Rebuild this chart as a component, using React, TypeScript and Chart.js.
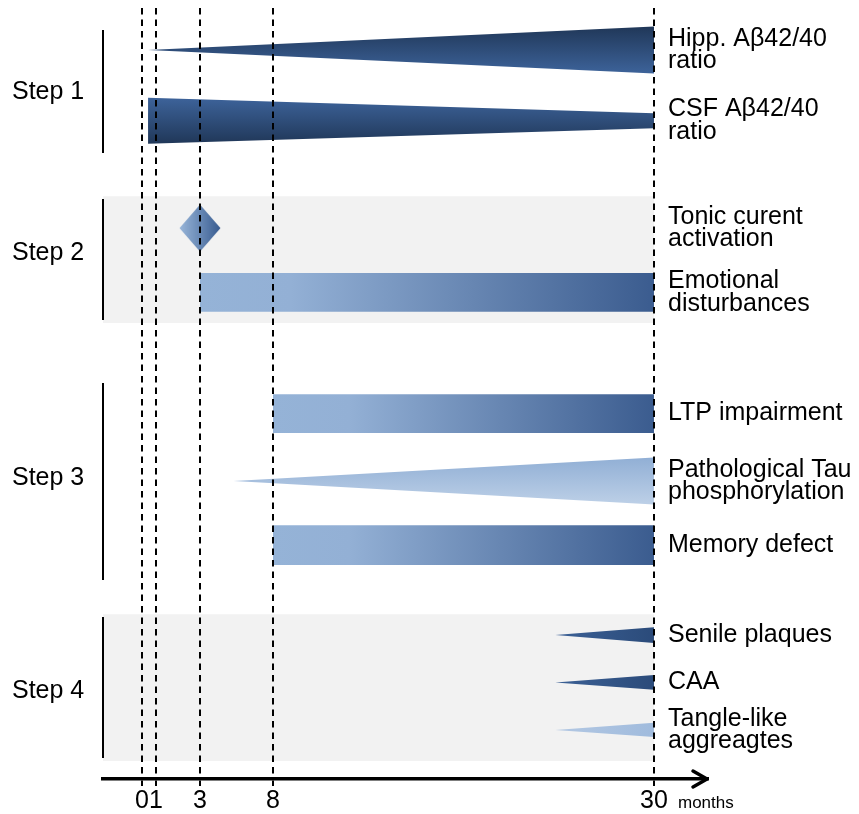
import React, { useEffect, useRef } from 'react';
import { Chart, registerables, LinearScale } from 'chart.js';

// ---------------- data ----------------
const MONTH_TICKS = [0, 1, 3, 8, 30];
const AXIS_UNIT = 'months';
const X_MIN = -2.8;
const X_MAX = 33.1;
const Y_MAX = 32.125; // row units, top of the timeline = 0

const ROW_LABELS = [
  'Hipp. Aβ42/40\nratio',
  'CSF Aβ42/40\nratio',
  'Tonic curent\nactivation',
  'Emotional\ndisturbances',
  'LTP impairment',
  'Pathological Tau\nphosphorylation',
  'Memory defect',
  'Senile plaques',
  'CAA',
  'Tangle-like\naggreagtes',
];
const ROW_POSITION = [1.75, 4.7, 9.17, 11.85, 16.9, 19.71, 22.38, 26.13, 28.1, 30.08];
const ROW_KIND = ['wedge', 'wedge', 'event', 'bar', 'bar', 'wedge', 'bar', 'wedge', 'wedge', 'wedge'];
const ONSET_MONTH = [0.43, 0.43, 3, 3, 8, 5.3, 8, 24.3, 24.3, 24.3];
const END_MONTH = [30, 30, 3, 30, 30, 30, 30, 30, 30, 30];
const ONSET_LEVEL = [0, 0.96, 0, 0.81, 0.81, 0, 0.83, 0, 0, 0];
const END_LEVEL = [0.98, 0.31, 0, 0.81, 0.81, 0.98, 0.83, 0.33, 0.31, 0.3];

const STEP_NAMES = ['Step 1', 'Step 2', 'Step 3', 'Step 4'];
const STEP_FROM = [0.92, 7.96, 15.63, 25.38];
const STEP_TO = [6.04, 13.0, 23.83, 31.25];
const STEP_LABEL_AT = [3.5, 10.2, 19.6, 28.45];
const STEP_SHADED = [false, true, false, true];

// ---------------- styles ----------------
const FONT = '"Liberation Sans", Arial, Helvetica, sans-serif';
// axis is not drawn to scale: fraction of axis length at [X_MIN, ...MONTH_TICKS, X_MAX]
const AXIS_VALUES = [X_MIN, ...MONTH_TICKS, X_MAX];
const AXIS_FRACTION = [0, 0.0645, 0.0876, 0.1603, 0.281, 0.9107, 1];
const BAND_PAD = 0.12;
const BAND_COLOR = '#f2f2f2';
const LABEL_SIZE = 25;
const LINE_GAP = 22.5;

type Fill = { dir: 'h' | 'v'; stops: [number, string][] };
const DARK_TOP: Fill = { dir: 'v', stops: [[0, '#203758'], [1, '#3d639a']] };
const DARK_BOTTOM: Fill = { dir: 'v', stops: [[0, '#3d639a'], [1, '#203758']] };
const RAMP: Fill = { dir: 'h', stops: [[0, '#95b3d7'], [0.2, '#93b0d5'], [1, '#3b5c8f']] };
const PALE_V: Fill = { dir: 'v', stops: [[0, '#91afd5'], [1, '#bdd0e7']] };
const DARK: Fill = { dir: 'h', stops: [[0, '#3c6196'], [1, '#2b4b7a']] };
const PALE: Fill = { dir: 'h', stops: [[0, '#b3c8e3'], [1, '#a0bbdd']] };
const ROW_FILL: Fill[] = [DARK_TOP, DARK_BOTTOM, RAMP, RAMP, RAMP, PALE_V, RAMP, DARK, DARK, PALE];

// ---------------- piecewise timeline scale ----------------
function valueToFraction(v: number): number {
  const n = AXIS_VALUES.length;
  for (let k = 0; k < n - 1; k++) {
    const a = AXIS_VALUES[k], b = AXIS_VALUES[k + 1];
    if (v <= b || k === n - 2) {
      return AXIS_FRACTION[k] + ((v - a) / (b - a)) * (AXIS_FRACTION[k + 1] - AXIS_FRACTION[k]);
    }
  }
  return 0;
}
function fractionToValue(f: number): number {
  const n = AXIS_FRACTION.length;
  for (let k = 0; k < n - 1; k++) {
    const a = AXIS_FRACTION[k], b = AXIS_FRACTION[k + 1];
    if (f <= b || k === n - 2) {
      return AXIS_VALUES[k] + ((f - a) / (b - a)) * (AXIS_VALUES[k + 1] - AXIS_VALUES[k]);
    }
  }
  return 0;
}

class TimelineScale extends LinearScale {
  static id = 'timeline';
  static defaults = (LinearScale as any).defaults;
  getPixelForValue(value: any) {
    if (value === null || value === undefined || isNaN(value)) return NaN;
    return (this as any).getPixelForDecimal(valueToFraction(+value));
  }
  getValueForPixel(pixel: number) {
    return fractionToValue((this as any).getDecimalForPixel(pixel));
  }
}

Chart.register(...registerables, TimelineScale as any);

// ---------------- helpers ----------------
function gradientFor(i: number) {
  const fill = ROW_FILL[i];
  return (ctx: any) => {
    const chart = ctx.chart;
    const xs = chart.scales.x, ys = chart.scales.y;
    if (!chart.chartArea || !xs || !ys) return fill.stops[0][1];
    const lvl = Math.max(ONSET_LEVEL[i], END_LEVEL[i]);
    const g = fill.dir === 'h'
      ? chart.ctx.createLinearGradient(xs.getPixelForValue(ONSET_MONTH[i]), 0, xs.getPixelForValue(END_MONTH[i]), 0)
      : chart.ctx.createLinearGradient(0, ys.getPixelForValue(ROW_POSITION[i] - lvl), 0, ys.getPixelForValue(ROW_POSITION[i] + lvl));
    fill.stops.forEach(([o, c]) => g.addColorStop(o, c));
    return g;
  };
}

function makeDiamond() {
  const c = document.createElement('canvas');
  c.width = 42; c.height = 48;
  const g = c.getContext('2d')!;
  const grad = g.createLinearGradient(0, 0, 42, 0);
  grad.addColorStop(0, '#9ab7da');
  grad.addColorStop(1, '#365a8f');
  g.fillStyle = grad;
  g.beginPath();
  g.moveTo(21, 0.5); g.lineTo(41.5, 24); g.lineTo(21, 47.5); g.lineTo(0.5, 24);
  g.closePath();
  g.fill();
  return c;
}

const annotationPlugin = {
  id: 'timelineText',
  afterDraw(chart: any) {
    const { ctx } = chart;
    const xs = chart.scales.x, ys = chart.scales.y;
    const lastTick = MONTH_TICKS[MONTH_TICKS.length - 1];
    ctx.save();
    ctx.fillStyle = '#000';
    ctx.textBaseline = 'middle';
    ctx.textAlign = 'left';
    ctx.font = `${LABEL_SIZE}px ${FONT}`;
    const lx = xs.getPixelForValue(lastTick) + 14;
    ROW_LABELS.forEach((label, i) => {
      const lines = label.split('\n');
      const cy = ys.getPixelForValue(ROW_POSITION[i]);
      lines.forEach((ln, k) => ctx.fillText(ln, lx, cy + (k - (lines.length - 1) / 2) * LINE_GAP));
    });
    STEP_NAMES.forEach((s, i) => ctx.fillText(s, 12, ys.getPixelForValue(STEP_LABEL_AT[i])));
    ctx.font = `17px ${FONT}`;
    ctx.fillText(AXIS_UNIT, xs.getPixelForValue(lastTick) + 24, xs.top + 24);
    // arrow head
    ctx.strokeStyle = '#000';
    ctx.lineWidth = 3.5;
    ctx.lineJoin = 'round';
    ctx.lineCap = 'round';
    const tipX = xs.right - 1, ay = xs.top;
    ctx.beginPath();
    ctx.moveTo(tipX - 14, ay - 8);
    ctx.lineTo(tipX, ay);
    ctx.lineTo(tipX - 14, ay + 8);
    ctx.stroke();
    ctx.restore();
  },
};

function buildDatasets() {
  const datasets: any[] = [];
  const base = { borderWidth: 0, borderColor: 'transparent', pointRadius: 0, pointHoverRadius: 0, tension: 0, clip: false };
  ROW_LABELS.forEach((_, i) => {
    const c = ROW_POSITION[i];
    if (ROW_KIND[i] === 'event') {
      datasets.push({
        ...base,
        data: [{ x: ONSET_MONTH[i], y: c }],
        showLine: false,
        pointStyle: makeDiamond(),
        pointRadius: 22,
        pointHoverRadius: 22,
        fill: false,
        order: 0,
      });
      return;
    }
    datasets.push({
      ...base,
      data: [{ x: ONSET_MONTH[i], y: c + ONSET_LEVEL[i] }, { x: END_MONTH[i], y: c + END_LEVEL[i] }],
      fill: false,
      order: 1,
    });
    datasets.push({
      ...base,
      data: [{ x: ONSET_MONTH[i], y: c - ONSET_LEVEL[i] }, { x: END_MONTH[i], y: c - END_LEVEL[i] }],
      fill: '-1',
      backgroundColor: gradientFor(i),
      order: 1,
    });
  });
  const endX = MONTH_TICKS[MONTH_TICKS.length - 1];
  STEP_NAMES.forEach((_, s) => {
    if (!STEP_SHADED[s]) return;
    datasets.push({
      ...base,
      data: [{ x: X_MIN, y: STEP_TO[s] + BAND_PAD }, { x: endX, y: STEP_TO[s] + BAND_PAD }],
      fill: false,
      order: 9,
    });
    datasets.push({
      ...base,
      data: [{ x: X_MIN, y: STEP_FROM[s] - BAND_PAD }, { x: endX, y: STEP_FROM[s] - BAND_PAD }],
      fill: '-1',
      backgroundColor: BAND_COLOR,
      order: 9,
    });
  });
  STEP_NAMES.forEach((_, s) => {
    datasets.push({
      ...base,
      data: [{ x: X_MIN, y: STEP_FROM[s] }, { x: X_MIN, y: STEP_TO[s] }],
      borderColor: '#000',
      borderWidth: 2,
      fill: false,
      order: 0,
    });
  });
  return datasets;
}

export default function App() {
  const ref = useRef<HTMLCanvasElement>(null);
  useEffect(() => {
    if (!ref.current) return;
    const chart = new Chart(ref.current, {
      type: 'line',
      data: { datasets: buildDatasets() },
      options: {
        responsive: false,
        animation: false,
        devicePixelRatio: 1,
        events: [],
        layout: { autoPadding: false, padding: { left: 103, right: 151, top: 8, bottom: 0 } },
        plugins: { legend: { display: false }, tooltip: { enabled: false } },
        scales: {
          x: {
            type: 'timeline' as any,
            min: X_MIN,
            max: X_MAX,
            afterBuildTicks: (s: any) => { s.ticks = MONTH_TICKS.map((v) => ({ value: v })); },
            afterFit: (s: any) => { s.height = 35; },
            grid: {
              z: 1,
              color: '#000',
              lineWidth: 2,
              drawTicks: true,
              tickLength: 7,
              tickColor: '#000',
              tickWidth: 2,
              tickBorderDash: [6.5, 5],
            },
            border: { display: true, z: 1, color: '#000', width: 3.5, dash: [6.5, 5] },
            ticks: {
              z: 1,
              autoSkip: false,
              maxRotation: 0,
              minRotation: 0,
              padding: 0,
              color: '#000',
              font: { family: FONT, size: 25 },
              callback: (v: any) => String(v),
            },
          } as any,
          y: { type: 'linear', display: false, min: 0, max: Y_MAX, reverse: true },
        },
      },
      plugins: [annotationPlugin],
    } as any);
    return () => chart.destroy();
  }, []);
  return (
    <div style={{ position: 'fixed', left: 0, top: 0, width: 859, height: 814, background: '#fff' }}>
      <canvas ref={ref} width={859} height={814} style={{ display: 'block', width: 859, height: 814 }} />
    </div>
  );
}
